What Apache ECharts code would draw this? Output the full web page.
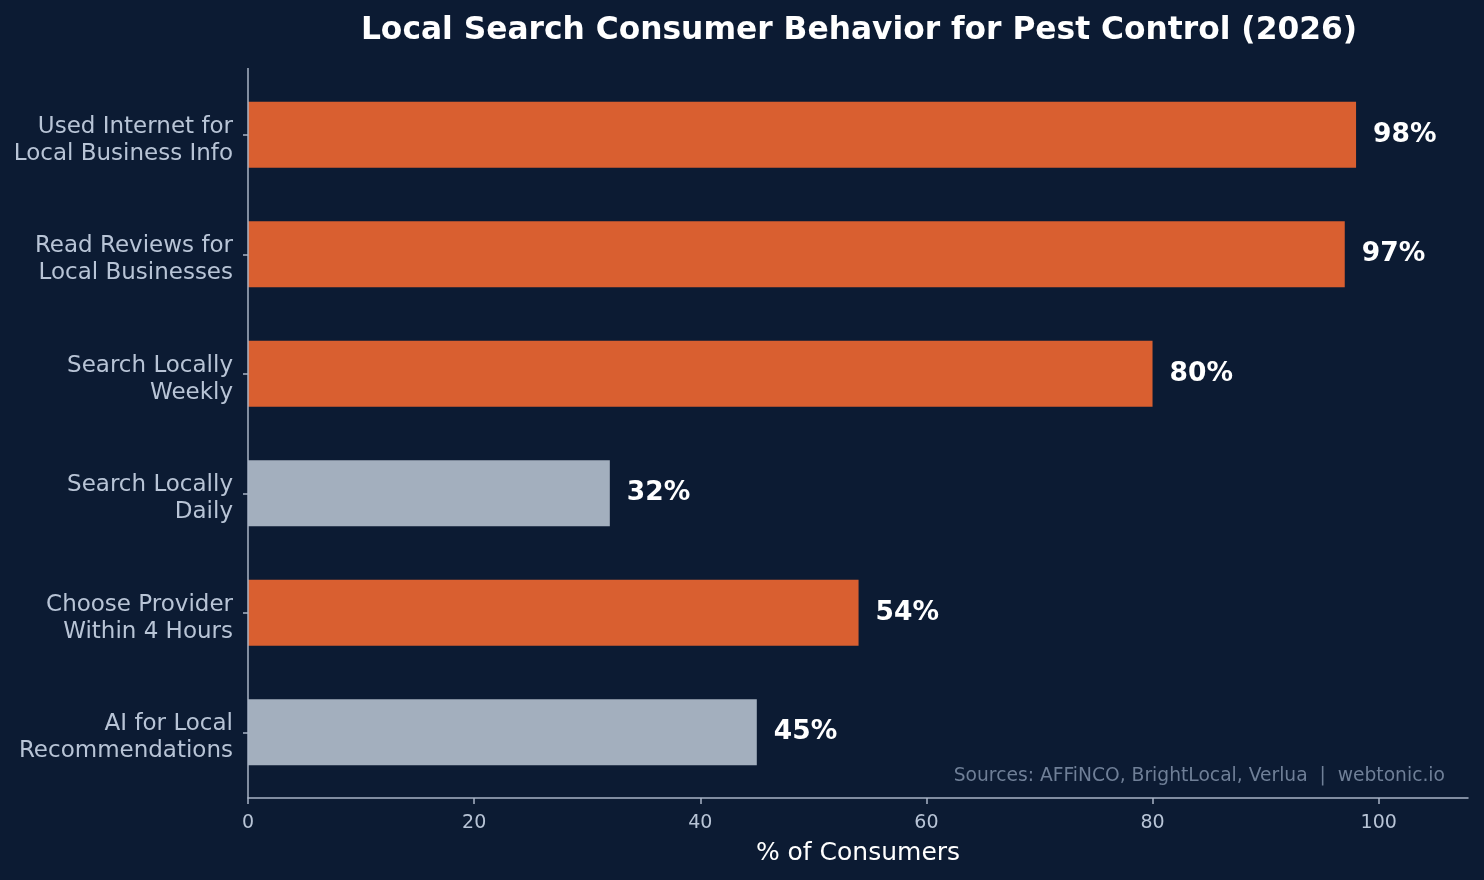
<!DOCTYPE html>
<html>
<head>
<meta charset="utf-8">
<script src="https://cdn.jsdelivr.net/npm/echarts@6/dist/echarts.min.js"></script>
<style>
  html, body { margin: 0; padding: 0; background: #0c1b33; }
  #chart { width: 1484px; height: 880px; }
</style>
</head>
<body>
<div id="chart"></div>
<script>
// data
const categories = [
  'Used Internet for\nLocal Business Info',
  'Read Reviews for\nLocal Businesses',
  'Search Locally\nWeekly',
  'Search Locally\nDaily',
  'Choose Provider\nWithin 4 Hours',
  'AI for Local\nRecommendations'
]
const values = [98, 97, 80, 32, 54, 45]
const mutedCategories = ['Search Locally\nDaily', 'AI for Local\nRecommendations']
const xTicks = [0, 20, 40, 60, 80, 100]

const ORANGE = '#d95f30'
const GREY = '#a3afbe'
const AXIS = '#a8b4c6'
const TEXT = '#b8c4d6'
const FONT = 'DejaVu Sans'

const chart = echarts.init(document.getElementById('chart'))

const option = {
  backgroundColor: '#0c1b33',
  textStyle: { fontFamily: FONT },
  title: {
    text: 'Local Search Consumer Behavior for Pest Control (2026)',
    left: 854,
    top: 10,
    textAlign: 'center',
    textStyle: { color: '#ffffff', fontSize: 31.3, fontWeight: 'bold', fontFamily: FONT }
  },
  grid: { left: 248, right: 16, top: 75, bottom: 88 },
  xAxis: {
    type: 'value',
    min: 0,
    max: 107.9,
    interval: 20,
    offset: 6,
    name: '% of Consumers',
    nameLocation: 'middle',
    nameGap: 43,
    nameTextStyle: { color: '#ffffff', fontSize: 25, fontFamily: FONT },
    axisLine: { show: true, lineStyle: { color: AXIS, width: 1.5 } },
    axisTick: { show: true, length: 6, customValues: xTicks, lineStyle: { color: AXIS, width: 1.5 } },
    axisLabel: {
      color: TEXT, fontSize: 19, margin: 16, fontFamily: FONT,
      customValues: xTicks
    },
    splitLine: { show: false }
  },
  yAxis: {
    type: 'category',
    data: categories,
    inverse: true,
    axisLine: { show: false },
    axisTick: { show: true, length: 5, alignWithLabel: true, lineStyle: { color: AXIS, width: 1.5 } },
    axisLabel: {
      margin: 15,
      align: 'right',
      // small empty first line pushes the two text lines a bit below the tick, like the source
      formatter: v => '{p| }\n' + v.split('\n').map(s => '{t|' + s + '}').join('\n'),
      rich: {
        p: { fontSize: 1, lineHeight: 11, align: 'right' },
        t: { color: TEXT, fontSize: 23, lineHeight: 27, fontFamily: FONT, align: 'right' }
      }
    }
  },
  series: [{
    type: 'bar',
    barWidth: 66,
    data: values.map((v, i) => ({
      value: v,
      itemStyle: { color: mutedCategories.includes(categories[i]) ? GREY : ORANGE }
    })),
    label: {
      show: true,
      position: 'right',
      distance: 17,
      formatter: p => p.value + '%',
      color: '#ffffff',
      fontSize: 26.5,
      fontWeight: 'bold',
      fontFamily: FONT
    },
    animation: false
  }],
  graphic: [
    {
      type: 'line',
      shape: { x1: 248, y1: 68, x2: 248, y2: 798 },
      style: { stroke: AXIS, lineWidth: 1.5 },
      z: 10
    },
    {
      type: 'text',
      right: 39,
      top: 767,
      style: {
        text: 'Sources: AFFiNCO, BrightLocal, Verlua  |  webtonic.io',
        fill: '#6f7f97',
        font: '18.7px "DejaVu Sans"',
        textAlign: 'right'
      }
    }
  ],
  animation: false
}

chart.setOption(option)

window.addEventListener('resize', () => {
  chart.resize()
})
</script>
</body>
</html>
